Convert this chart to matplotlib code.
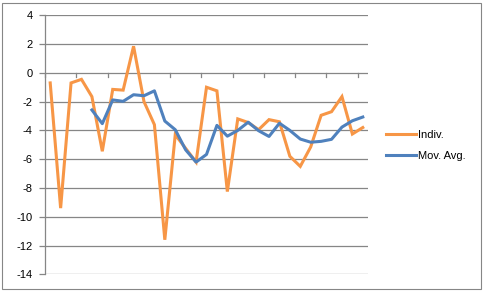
#!/usr/bin/env python3

# individual values with a 5 period moving average, Excel style chart
#

import numpy as np
import matplotlib.pyplot as plt
from matplotlib.patches import Rectangle

plt.rcParams["font.family"] = ["Liberation Sans", "DejaVu Sans"]

indiv = [
    -0.7, -9.4, -0.7, -0.45, -1.65, -5.45, -1.15, -1.2, 1.85, -2.0,
    -3.6, -11.6, -4.3, -5.25, -6.2, -1.0, -1.25, -8.25, -3.2, -3.45,
    -3.95, -3.25, -3.4, -5.8, -6.5, -5.15, -2.95, -2.7, -1.65, -4.25,
    -3.8,
]
# moving average starts at the 5th point
mov_avg = [
    -2.58, -3.53, -1.88, -1.98, -1.52, -1.59, -1.25, -3.35, -3.95, -5.35,
    -6.2, -5.67, -3.65, -4.4, -4.0, -3.43, -4.02, -4.42, -3.5, -4.0,
    -4.6, -4.82, -4.76, -4.62, -3.77, -3.33, -3.07,
]
y_ticks = [4, 2, 0, -2, -4, -6, -8, -10, -12, -14]
labels = ["Indiv.", "Mov. Avg."]

grey = "#868686"
orange = "#F79646"
blue = "#4F81BD"

W, H = 483, 291
fig = plt.figure(figsize=(W / 100, H / 100), dpi=100)

# chart area border
fig.patches.append(Rectangle((2 / W, 2 / H), 479 / W, 286 / H,
                             transform=fig.transFigure, fill=False,
                             edgecolor=grey, lw=0.8))

left, right = 45, 368
top, bottom = 15.3, 274.3
ax = fig.add_axes([left / W, 1 - bottom / H, (right - left) / W, (bottom - top) / H])

n = len(indiv)
x = np.arange(n) + 0.5
x_ma = x[n - len(mov_avg):]

ax.plot(x, indiv, color=orange, lw=2.2, solid_joinstyle="miter", label=labels[0], zorder=3)
ax.plot(x_ma, mov_avg, color=blue, lw=2.2, label=labels[1], zorder=4)

ax.set_xlim(0, n)
ax.set_ylim(-14, 4)
ax.set_yticks(y_ticks)
ax.set_yticklabels([str(v) for v in y_ticks])
for v in y_ticks:
    ax.axhline(v, color=grey, lw=0.9, zorder=1)

# category axis sits at y=0 with ticks every 3 categories
ax.set_xticks([])
for t in range(0, n, 3):
    ax.plot([t, t], [0, -0.28], color=grey, lw=0.9, zorder=1, clip_on=False)

for s in ["top", "right", "bottom"]:
    ax.spines[s].set_visible(False)
ax.spines["left"].set_color(grey)
ax.spines["left"].set_linewidth(0.9)
ax.tick_params(axis="y", length=4, width=0.9, color=grey, labelsize=8, pad=5)

leg = ax.legend(loc="upper left", bbox_to_anchor=(386 / W, 1 - 130 / H),
                bbox_transform=fig.transFigure, frameon=False, fontsize=8,
                handlelength=2.7, handletextpad=0.15, labelspacing=1.0,
                borderaxespad=0, borderpad=0)

fig.savefig("out.png", dpi=100)
